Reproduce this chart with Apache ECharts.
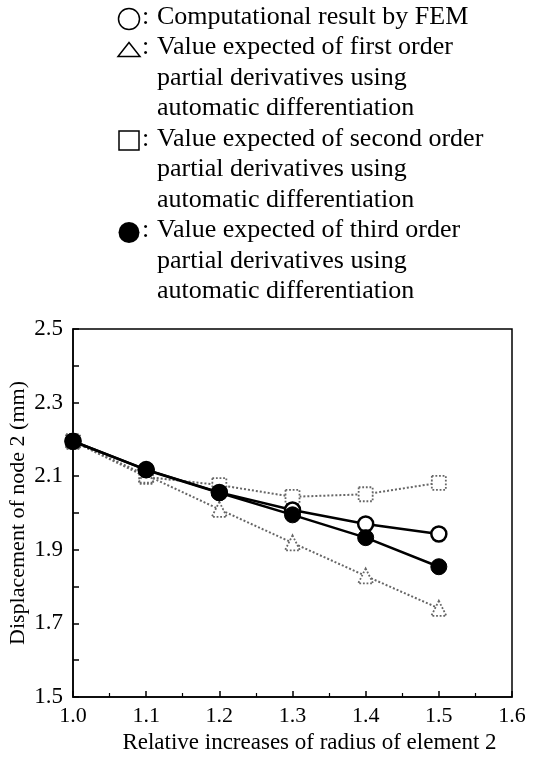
<!DOCTYPE html>
<html>
<head>
<meta charset="utf-8">
<script src="https://cdn.jsdelivr.net/npm/echarts@6/dist/echarts.min.js"></script>
<style>
html,body{margin:0;padding:0;background:#fff;}
#chart{width:549px;height:757px;}
</style>
</head>
<body>
<div id="chart"></div>
<script>
// Data
const xValues = [1.0, 1.1, 1.2, 1.3, 1.4, 1.5];
const femResult = [2.195, 2.118, 2.056, 2.008, 1.970, 1.943];      // open circles
const firstOrder = [2.195, 2.103, 2.010, 1.919, 1.829, 1.741];     // triangles
const secondOrder = [2.195, 2.098, 2.076, 2.044, 2.051, 2.082];    // squares
const thirdOrder = [2.195, 2.117, 2.055, 1.995, 1.933, 1.854];     // filled circles

const legendLines = [
  {sym: 'circle', text: 'Computational result by FEM'},
  {sym: 'triangle', text: 'Value expected of first order'},
  {sym: null, text: 'partial derivatives using'},
  {sym: null, text: 'automatic differentiation'},
  {sym: 'square', text: 'Value expected of second order'},
  {sym: null, text: 'partial derivatives using'},
  {sym: null, text: 'automatic differentiation'},
  {sym: 'dot', text: 'Value expected of third order'},
  {sym: null, text: 'partial derivatives using'},
  {sym: null, text: 'automatic differentiation'}
];

const FONT = '"Liberation Serif", "Times New Roman", serif';
const chart = echarts.init(document.getElementById('chart'), null, {renderer: 'canvas'});

function pairs(ys) { return xValues.map((x, i) => [x, ys[i]]); }

// Legend graphics
const graphics = [];
const lineY0 = 19, lineStep = 30.5, textX = 157, symX = 129;
legendLines.forEach((l, i) => {
  const y = lineY0 + i * lineStep;
  graphics.push({type: 'text', left: textX, top: y - 15,
    style: {text: l.text, font: '26px ' + FONT, fill: '#000'}});
  if (l.sym) {
    graphics.push({type: 'text', left: 142, top: y - 15,
      style: {text: ':', font: '26px ' + FONT, fill: '#000'}});
    if (l.sym === 'circle') {
      graphics.push({type: 'circle', shape: {cx: symX, cy: y, r: 10.5},
        style: {fill: '#fff', stroke: '#000', lineWidth: 1.5}});
    } else if (l.sym === 'triangle') {
      graphics.push({type: 'polygon', shape: {points: [[symX, y - 7], [symX + 11, y + 7], [symX - 11, y + 7]]},
        style: {fill: '#fff', stroke: '#000', lineWidth: 1.5}});
    } else if (l.sym === 'square') {
      graphics.push({type: 'rect', shape: {x: symX - 10, y: y - 10, width: 20, height: 19},
        style: {fill: '#fff', stroke: '#000', lineWidth: 1.5}});
    } else if (l.sym === 'dot') {
      graphics.push({type: 'circle', shape: {cx: symX, cy: y, r: 10.5},
        style: {fill: '#000'}});
    }
  }
});

const option = {
  backgroundColor: '#fff',
  animation: false,
  graphic: graphics,
  grid: {left: 73, right: 37, top: 329, bottom: 60, show: true, borderColor: '#000', borderWidth: 1.5,
    backgroundColor: 'transparent', containLabel: false, outerBoundsMode: 'none'},
  xAxis: {
    type: 'value', min: 1.0, max: 1.6, interval: 0.1,
    name: 'Relative increases of radius of element 2',
    nameLocation: 'middle', nameGap: 34, nameMoveOverlap: false,
    nameTextStyle: {fontFamily: FONT, fontSize: 23, color: '#000', padding: [0, 0, 0, 34]},
    axisLine: {lineStyle: {color: '#000', width: 1.5}},
    axisTick: {inside: true, length: 6, lineStyle: {color: '#000', width: 1.5}},
    minorTick: {show: true, splitNumber: 2, length: 4, lineStyle: {color: '#000', width: 1.2}},
    splitLine: {show: false},
    axisLabel: {fontFamily: FONT, fontSize: 22, color: '#000', margin: 8,
      formatter: v => v.toFixed(1)}
  },
  yAxis: {
    type: 'value', min: 1.5, max: 2.5, interval: 0.1,
    name: 'Displacement of node 2 (mm)',
    nameLocation: 'middle', nameGap: 44, nameRotate: 90, nameMoveOverlap: false,
    nameTextStyle: {fontFamily: FONT, fontSize: 22, color: '#000'},
    axisLine: {lineStyle: {color: '#000', width: 1.5}},
    axisTick: {inside: true, length: 6, lineStyle: {color: '#000', width: 1.5}},
    splitLine: {show: false},
    axisLabel: {fontFamily: FONT, fontSize: 23, color: '#000', margin: 10,
      formatter: v => (Math.round((v - 1.5) * 10) % 2 === 0 ? v.toFixed(1) : '')}
  },
  series: [
    {
      name: 'second', type: 'line', data: pairs(secondOrder), symbol: 'rect', symbolSize: 14,
      lineStyle: {color: '#666', width: 2, type: 'dotted'},
      itemStyle: {color: '#fff', borderColor: '#666', borderWidth: 1.8, borderType: 'dotted'}, z: 2
    },
    {
      name: 'first', type: 'line', data: pairs(firstOrder), symbol: 'triangle', symbolSize: 15,
      lineStyle: {color: '#666', width: 2, type: 'dotted'},
      itemStyle: {color: '#fff', borderColor: '#666', borderWidth: 1.8, borderType: 'dotted'}, z: 2
    },
    {
      name: 'fem', type: 'line', data: pairs(femResult), symbol: 'circle', symbolSize: 15,
      lineStyle: {color: '#000', width: 2.5},
      itemStyle: {color: '#fff', borderColor: '#000', borderWidth: 2.5}, z: 3
    },
    {
      name: 'third', type: 'line', data: pairs(thirdOrder), symbol: 'circle', symbolSize: 16,
      lineStyle: {color: '#000', width: 2.5},
      itemStyle: {color: '#000', borderColor: '#000', borderWidth: 1}, z: 4
    }
  ]
};
chart.setOption(option);
</script>
</body>
</html>
